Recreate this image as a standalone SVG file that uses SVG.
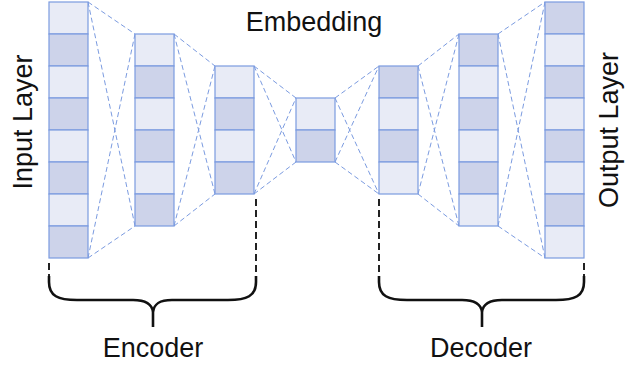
<svg xmlns="http://www.w3.org/2000/svg" width="634" height="368" viewBox="0 0 634 368">
<style>
.lt{fill:#e8ebf6;stroke:#7b9be0;stroke-width:1.2}
.dk{fill:#cdd3ea;stroke:#7b9be0;stroke-width:1.2}
.cn line{stroke:#7b9be0;stroke-width:1;stroke-dasharray:5,3;fill:none}
.vd{stroke:#222;stroke-width:2;stroke-dasharray:7,4;fill:none}
.br{stroke:#111;stroke-width:2.6;fill:none;stroke-linejoin:round}
text{font-family:"Liberation Sans",Arial,sans-serif;font-size:27px;fill:#111}
</style>
<rect width="634" height="368" fill="#fff"/>
<g id="connectors" class="cn">
<line x1="88" y1="2" x2="135" y2="34"/><line x1="88" y1="2" x2="135" y2="226"/><line x1="88" y1="258" x2="135" y2="34"/><line x1="88" y1="258" x2="135" y2="226"/>
<line x1="174" y1="34" x2="215" y2="66"/><line x1="174" y1="34" x2="215" y2="194"/><line x1="174" y1="226" x2="215" y2="66"/><line x1="174" y1="226" x2="215" y2="194"/>
<line x1="254" y1="66" x2="296" y2="98"/><line x1="254" y1="66" x2="296" y2="162"/><line x1="254" y1="194" x2="296" y2="98"/><line x1="254" y1="194" x2="296" y2="162"/>
<line x1="335" y1="98" x2="379" y2="66"/><line x1="335" y1="98" x2="379" y2="194"/><line x1="335" y1="162" x2="379" y2="66"/><line x1="335" y1="162" x2="379" y2="194"/>
<line x1="418" y1="66" x2="459" y2="34"/><line x1="418" y1="66" x2="459" y2="226"/><line x1="418" y1="194" x2="459" y2="34"/><line x1="418" y1="194" x2="459" y2="226"/>
<line x1="498" y1="34" x2="545" y2="2"/><line x1="498" y1="34" x2="545" y2="258"/><line x1="498" y1="226" x2="545" y2="2"/><line x1="498" y1="226" x2="545" y2="258"/>
</g>
<g id="input-layer">
<rect class="lt" x="49" y="2" width="39" height="32"/><rect class="dk" x="49" y="34" width="39" height="32"/><rect class="lt" x="49" y="66" width="39" height="32"/><rect class="dk" x="49" y="98" width="39" height="32"/><rect class="lt" x="49" y="130" width="39" height="32"/><rect class="dk" x="49" y="162" width="39" height="32"/><rect class="lt" x="49" y="194" width="39" height="32"/><rect class="dk" x="49" y="226" width="39" height="32"/>
</g>
<g id="enc-hidden-1">
<rect class="lt" x="135" y="34" width="39" height="32"/><rect class="dk" x="135" y="66" width="39" height="32"/><rect class="lt" x="135" y="98" width="39" height="32"/><rect class="dk" x="135" y="130" width="39" height="32"/><rect class="lt" x="135" y="162" width="39" height="32"/><rect class="dk" x="135" y="194" width="39" height="32"/>
</g>
<g id="enc-hidden-2">
<rect class="lt" x="215" y="66" width="39" height="32"/><rect class="dk" x="215" y="98" width="39" height="32"/><rect class="lt" x="215" y="130" width="39" height="32"/><rect class="dk" x="215" y="162" width="39" height="32"/>
</g>
<g id="embedding-layer">
<rect class="lt" x="296" y="98" width="39" height="32"/><rect class="dk" x="296" y="130" width="39" height="32"/>
</g>
<g id="dec-hidden-1">
<rect class="dk" x="379" y="66" width="39" height="32"/><rect class="lt" x="379" y="98" width="39" height="32"/><rect class="dk" x="379" y="130" width="39" height="32"/><rect class="lt" x="379" y="162" width="39" height="32"/>
</g>
<g id="dec-hidden-2">
<rect class="dk" x="459" y="34" width="39" height="32"/><rect class="lt" x="459" y="66" width="39" height="32"/><rect class="dk" x="459" y="98" width="39" height="32"/><rect class="lt" x="459" y="130" width="39" height="32"/><rect class="dk" x="459" y="162" width="39" height="32"/><rect class="lt" x="459" y="194" width="39" height="32"/>
</g>
<g id="output-layer">
<rect class="dk" x="545" y="2" width="39" height="32"/><rect class="lt" x="545" y="34" width="39" height="32"/><rect class="dk" x="545" y="66" width="39" height="32"/><rect class="lt" x="545" y="98" width="39" height="32"/><rect class="dk" x="545" y="130" width="39" height="32"/><rect class="lt" x="545" y="162" width="39" height="32"/><rect class="dk" x="545" y="194" width="39" height="32"/><rect class="lt" x="545" y="226" width="39" height="32"/>
</g>
<g id="encoder-brace">
<line class="vd" x1="49" y1="263" x2="49" y2="276"/>
<line class="vd" x1="256" y1="199" x2="256" y2="276"/>
<path class="br" d="M49,276 L49,282 C49,296 58,300 77,300 L133,300 C146,300 152,304 153,312 L153,327 M256,276 L256,282 C256,296 247,300 228,300 L172,300 C159,300 154,304 153,312"/>
<text x="153" y="357" text-anchor="middle">Encoder</text>
</g>
<g id="decoder-brace">
<line class="vd" x1="379" y1="199" x2="379" y2="276"/>
<line class="vd" x1="584" y1="263" x2="584" y2="276"/>
<path class="br" d="M379,276 L379,282 C379,296 388,300 407,300 L462,300 C475,300 481,304 482,312 L482,327 M584,276 L584,282 C584,296 575,300 556,300 L502,300 C489,300 483,304 482,312"/>
<text x="481" y="357" text-anchor="middle">Decoder</text>
</g>
<g id="labels">
<text x="314" y="31" text-anchor="middle">Embedding</text>
<text transform="translate(32,122) rotate(-90)" text-anchor="middle">Input Layer</text>
<text transform="translate(618,130) rotate(-90)" text-anchor="middle">Output Layer</text>
</g>
</svg>
